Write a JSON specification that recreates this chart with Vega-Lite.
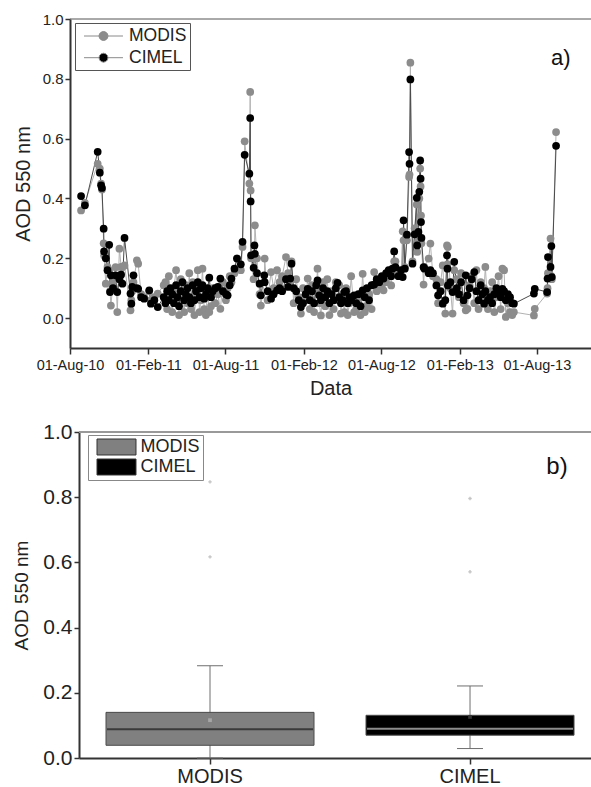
{
"$schema": "https://vega.github.io/schema/vega-lite/v6.json",
"padding": {"left": 12, "top": 12, "right": 0, "bottom": 0},
"spacing": 22,
"resolve": {"scale": {"fill": "independent", "stroke": "independent", "color": "independent"}, "legend": {"fill": "independent", "stroke": "independent", "color": "independent"}},
"config": {
  "font": "Liberation Sans",
  "view": {"stroke": null},
  "axis": {"grid": false, "labelColor": "#222", "titleColor": "#222", "domainColor": "#333", "tickColor": "#333", "titleFontWeight": "normal", "labelFlush": false, "labelOverlap": false}
},
"datasets": {
"aod": [
{"d":"2010-08-27","s":"MODIS","v":0.36},{"d":"2010-08-27","s":"CIMEL","v":0.408},
{"d":"2010-09-05","s":"MODIS","v":0.385},{"d":"2010-09-05","s":"CIMEL","v":0.377},
{"d":"2010-10-05","s":"MODIS","v":0.516},{"d":"2010-10-05","s":"CIMEL","v":0.556},
{"d":"2010-10-10","s":"MODIS","v":0.5},{"d":"2010-10-10","s":"CIMEL","v":0.486},
{"d":"2010-10-13","s":"MODIS","v":0.45},{"d":"2010-10-13","s":"CIMEL","v":0.444},
{"d":"2010-10-15","s":"MODIS","v":0.43},{"d":"2010-10-15","s":"CIMEL","v":0.435},
{"d":"2010-10-19","s":"MODIS","v":0.25},{"d":"2010-10-19","s":"CIMEL","v":0.299},
{"d":"2010-10-20","s":"MODIS","v":0.21},{"d":"2010-10-20","s":"CIMEL","v":0.223},
{"d":"2010-10-24","s":"MODIS","v":0.115},{"d":"2010-10-24","s":"CIMEL","v":0.2},
{"d":"2010-10-28","s":"MODIS","v":0.171},{"d":"2010-10-28","s":"CIMEL","v":0.16},
{"d":"2010-11-01","s":"MODIS","v":0.16},{"d":"2010-11-01","s":"CIMEL","v":0.245},
{"d":"2010-11-03","s":"MODIS","v":0.09},{"d":"2010-11-03","s":"CIMEL","v":0.087},
{"d":"2010-11-05","s":"MODIS","v":0.042},{"d":"2010-11-05","s":"CIMEL","v":0.143},
{"d":"2010-11-10","s":"MODIS","v":0.12},{"d":"2010-11-10","s":"CIMEL","v":0.1},
{"d":"2010-11-16","s":"MODIS","v":0.17},{"d":"2010-11-16","s":"CIMEL","v":0.143},
{"d":"2010-11-20","s":"MODIS","v":0.02},{"d":"2010-11-20","s":"CIMEL","v":0.087},
{"d":"2010-11-25","s":"MODIS","v":0.232},{"d":"2010-11-25","s":"CIMEL","v":0.13},
{"d":"2010-11-29","s":"MODIS","v":0.171},{"d":"2010-11-29","s":"CIMEL","v":0.145},
{"d":"2010-12-02","s":"MODIS","v":0.17},{"d":"2010-12-02","s":"CIMEL","v":0.115},
{"d":"2010-12-07","s":"MODIS","v":0.176},{"d":"2010-12-07","s":"CIMEL","v":0.268},
{"d":"2010-12-21","s":"MODIS","v":0.026},{"d":"2010-12-21","s":"CIMEL","v":0.082},
{"d":"2010-12-23","s":"MODIS","v":0.06},{"d":"2010-12-23","s":"CIMEL","v":0.048},
{"d":"2010-12-25","s":"MODIS","v":0.09},{"d":"2010-12-25","s":"CIMEL","v":0.104},
{"d":"2010-12-28","s":"MODIS","v":0.12},{"d":"2010-12-28","s":"CIMEL","v":0.143},
{"d":"2011-01-05","s":"MODIS","v":0.193},{"d":"2011-01-05","s":"CIMEL","v":0.1},
{"d":"2011-01-08","s":"MODIS","v":0.182},{"d":"2011-01-08","s":"CIMEL","v":0.098},
{"d":"2011-01-15","s":"MODIS","v":0.08},{"d":"2011-01-15","s":"CIMEL","v":0.07},
{"d":"2011-01-22","s":"MODIS","v":0.07},{"d":"2011-01-22","s":"CIMEL","v":0.065},
{"d":"2011-02-03","s":"MODIS","v":0.09},{"d":"2011-02-03","s":"CIMEL","v":0.093},
{"d":"2011-02-07","s":"MODIS","v":0.06},{"d":"2011-02-07","s":"CIMEL","v":0.048},
{"d":"2011-02-15","s":"MODIS","v":0.07},{"d":"2011-02-15","s":"CIMEL","v":0.06},
{"d":"2011-02-23","s":"MODIS","v":0.082},{"d":"2011-02-23","s":"CIMEL","v":0.037},
{"d":"2011-03-09","s":"MODIS","v":0.11},{"d":"2011-03-09","s":"CIMEL","v":0.07},
{"d":"2011-03-13","s":"MODIS","v":0.12},{"d":"2011-03-13","s":"CIMEL","v":0.05},
{"d":"2011-03-17","s":"MODIS","v":0.03},{"d":"2011-03-17","s":"CIMEL","v":0.09},
{"d":"2011-03-21","s":"MODIS","v":0.14},{"d":"2011-03-21","s":"CIMEL","v":0.06},
{"d":"2011-03-25","s":"MODIS","v":0.06},{"d":"2011-03-25","s":"CIMEL","v":0.1},
{"d":"2011-03-29","s":"MODIS","v":0.02},{"d":"2011-03-29","s":"CIMEL","v":0.08},
{"d":"2011-04-02","s":"MODIS","v":0.1},{"d":"2011-04-02","s":"CIMEL","v":0.05},
{"d":"2011-04-07","s":"MODIS","v":0.16},{"d":"2011-04-07","s":"CIMEL","v":0.11},
{"d":"2011-04-10","s":"MODIS","v":0.09},{"d":"2011-04-10","s":"CIMEL","v":0.07},
{"d":"2011-04-14","s":"MODIS","v":0.01},{"d":"2011-04-14","s":"CIMEL","v":0.04},
{"d":"2011-04-18","s":"MODIS","v":0.13},{"d":"2011-04-18","s":"CIMEL","v":0.09},
{"d":"2011-04-22","s":"MODIS","v":0.07},{"d":"2011-04-22","s":"CIMEL","v":0.12},
{"d":"2011-04-26","s":"MODIS","v":0.02},{"d":"2011-04-26","s":"CIMEL","v":0.06},
{"d":"2011-04-30","s":"MODIS","v":0.11},{"d":"2011-04-30","s":"CIMEL","v":0.08},
{"d":"2011-05-04","s":"MODIS","v":0.05},{"d":"2011-05-04","s":"CIMEL","v":0.1},
{"d":"2011-05-08","s":"MODIS","v":0.15},{"d":"2011-05-08","s":"CIMEL","v":0.07},
{"d":"2011-05-12","s":"MODIS","v":0.03},{"d":"2011-05-12","s":"CIMEL","v":0.05},
{"d":"2011-05-16","s":"MODIS","v":0.12},{"d":"2011-05-16","s":"CIMEL","v":0.11},
{"d":"2011-05-20","s":"MODIS","v":0.01},{"d":"2011-05-20","s":"CIMEL","v":0.06},
{"d":"2011-05-24","s":"MODIS","v":0.08},{"d":"2011-05-24","s":"CIMEL","v":0.09},
{"d":"2011-05-28","s":"MODIS","v":0.16},{"d":"2011-05-28","s":"CIMEL","v":0.12},
{"d":"2011-06-01","s":"MODIS","v":0.02},{"d":"2011-06-01","s":"CIMEL","v":0.07},
{"d":"2011-06-04","s":"MODIS","v":0.06},{"d":"2011-06-04","s":"CIMEL","v":0.1},
{"d":"2011-06-08","s":"MODIS","v":0.165},{"d":"2011-06-08","s":"CIMEL","v":0.11},
{"d":"2011-06-12","s":"MODIS","v":0.03},{"d":"2011-06-12","s":"CIMEL","v":0.065},
{"d":"2011-06-16","s":"MODIS","v":0.01},{"d":"2011-06-16","s":"CIMEL","v":0.08},
{"d":"2011-06-20","s":"MODIS","v":0.09},{"d":"2011-06-20","s":"CIMEL","v":0.1},
{"d":"2011-06-24","s":"MODIS","v":0.02},{"d":"2011-06-24","s":"CIMEL","v":0.135},
{"d":"2011-06-28","s":"MODIS","v":0.04},{"d":"2011-06-28","s":"CIMEL","v":0.07},
{"d":"2011-07-02","s":"MODIS","v":0.1},{"d":"2011-07-02","s":"CIMEL","v":0.09},
{"d":"2011-07-08","s":"MODIS","v":0.05},{"d":"2011-07-08","s":"CIMEL","v":0.1},
{"d":"2011-07-14","s":"MODIS","v":0.08},{"d":"2011-07-14","s":"CIMEL","v":0.104},
{"d":"2011-07-20","s":"MODIS","v":0.031},{"d":"2011-07-20","s":"CIMEL","v":0.132},
{"d":"2011-07-26","s":"MODIS","v":0.12},{"d":"2011-07-26","s":"CIMEL","v":0.09},
{"d":"2011-08-02","s":"MODIS","v":0.06},{"d":"2011-08-02","s":"CIMEL","v":0.08},
{"d":"2011-08-06","s":"MODIS","v":0.1},{"d":"2011-08-06","s":"CIMEL","v":0.076},
{"d":"2011-08-11","s":"MODIS","v":0.14},{"d":"2011-08-11","s":"CIMEL","v":0.11},
{"d":"2011-08-15","s":"MODIS","v":0.12},{"d":"2011-08-15","s":"CIMEL","v":0.132},
{"d":"2011-08-22","s":"MODIS","v":0.15},{"d":"2011-08-22","s":"CIMEL","v":0.165},
{"d":"2011-08-28","s":"MODIS","v":0.2},{"d":"2011-08-28","s":"CIMEL","v":0.199},
{"d":"2011-09-06","s":"MODIS","v":0.16},{"d":"2011-09-06","s":"CIMEL","v":0.18},
{"d":"2011-09-10","s":"MODIS","v":0.238},{"d":"2011-09-10","s":"CIMEL","v":0.255},
{"d":"2011-09-15","s":"MODIS","v":0.591},{"d":"2011-09-15","s":"CIMEL","v":0.546},
{"d":"2011-09-26","s":"MODIS","v":0.45},{"d":"2011-09-26","s":"CIMEL","v":0.483},
{"d":"2011-09-28","s":"MODIS","v":0.756},{"d":"2011-09-28","s":"CIMEL","v":0.669},
{"d":"2011-09-29","s":"MODIS","v":0.427},{"d":"2011-09-29","s":"CIMEL","v":0.39},
{"d":"2011-09-30","s":"MODIS","v":0.2},{"d":"2011-09-30","s":"CIMEL","v":0.21},
{"d":"2011-10-06","s":"MODIS","v":0.13},{"d":"2011-10-06","s":"CIMEL","v":0.168},
{"d":"2011-10-08","s":"MODIS","v":0.2},{"d":"2011-10-08","s":"CIMEL","v":0.243},
{"d":"2011-10-09","s":"MODIS","v":0.31},{"d":"2011-10-09","s":"CIMEL","v":0.215},
{"d":"2011-10-14","s":"MODIS","v":0.2},{"d":"2011-10-14","s":"CIMEL","v":0.15},
{"d":"2011-10-20","s":"MODIS","v":0.08},{"d":"2011-10-20","s":"CIMEL","v":0.115},
{"d":"2011-10-23","s":"MODIS","v":0.042},{"d":"2011-10-23","s":"CIMEL","v":0.076},
{"d":"2011-10-31","s":"MODIS","v":0.12},{"d":"2011-10-31","s":"CIMEL","v":0.143},
{"d":"2011-11-01","s":"MODIS","v":0.199},{"d":"2011-11-01","s":"CIMEL","v":0.12},
{"d":"2011-11-08","s":"MODIS","v":0.06},{"d":"2011-11-08","s":"CIMEL","v":0.09},
{"d":"2011-11-16","s":"MODIS","v":0.154},{"d":"2011-11-16","s":"CIMEL","v":0.065},
{"d":"2011-11-22","s":"MODIS","v":0.1},{"d":"2011-11-22","s":"CIMEL","v":0.08},
{"d":"2011-11-30","s":"MODIS","v":0.16},{"d":"2011-11-30","s":"CIMEL","v":0.093},
{"d":"2011-12-06","s":"MODIS","v":0.12},{"d":"2011-12-06","s":"CIMEL","v":0.1},
{"d":"2011-12-12","s":"MODIS","v":0.14},{"d":"2011-12-12","s":"CIMEL","v":0.09},
{"d":"2011-12-21","s":"MODIS","v":0.204},{"d":"2011-12-21","s":"CIMEL","v":0.13},
{"d":"2011-12-26","s":"MODIS","v":0.15},{"d":"2011-12-26","s":"CIMEL","v":0.104},
{"d":"2011-12-31","s":"MODIS","v":0.11},{"d":"2011-12-31","s":"CIMEL","v":0.132},
{"d":"2012-01-03","s":"MODIS","v":0.19},{"d":"2012-01-03","s":"CIMEL","v":0.182},
{"d":"2012-01-08","s":"MODIS","v":0.05},{"d":"2012-01-08","s":"CIMEL","v":0.1},
{"d":"2012-01-14","s":"MODIS","v":0.13},{"d":"2012-01-14","s":"CIMEL","v":0.09},
{"d":"2012-01-20","s":"MODIS","v":0.07},{"d":"2012-01-20","s":"CIMEL","v":0.06},
{"d":"2012-01-25","s":"MODIS","v":0.015},{"d":"2012-01-25","s":"CIMEL","v":0.037},
{"d":"2012-01-30","s":"MODIS","v":0.1},{"d":"2012-01-30","s":"CIMEL","v":0.05},
{"d":"2012-02-05","s":"MODIS","v":0.06},{"d":"2012-02-05","s":"CIMEL","v":0.08},
{"d":"2012-02-10","s":"MODIS","v":0.132},{"d":"2012-02-10","s":"CIMEL","v":0.098},
{"d":"2012-02-15","s":"MODIS","v":0.03},{"d":"2012-02-15","s":"CIMEL","v":0.06},
{"d":"2012-02-20","s":"MODIS","v":0.11},{"d":"2012-02-20","s":"CIMEL","v":0.09},
{"d":"2012-02-25","s":"MODIS","v":0.02},{"d":"2012-02-25","s":"CIMEL","v":0.05},
{"d":"2012-03-01","s":"MODIS","v":0.09},{"d":"2012-03-01","s":"CIMEL","v":0.11},
{"d":"2012-03-04","s":"MODIS","v":0.165},{"d":"2012-03-04","s":"CIMEL","v":0.126},
{"d":"2012-03-08","s":"MODIS","v":0.05},{"d":"2012-03-08","s":"CIMEL","v":0.076},
{"d":"2012-03-12","s":"MODIS","v":0.009},{"d":"2012-03-12","s":"CIMEL","v":0.06},
{"d":"2012-03-17","s":"MODIS","v":0.12},{"d":"2012-03-17","s":"CIMEL","v":0.1},
{"d":"2012-03-22","s":"MODIS","v":0.04},{"d":"2012-03-22","s":"CIMEL","v":0.07},
{"d":"2012-03-27","s":"MODIS","v":0.13},{"d":"2012-03-27","s":"CIMEL","v":0.09},
{"d":"2012-04-01","s":"MODIS","v":0.01},{"d":"2012-04-01","s":"CIMEL","v":0.05},
{"d":"2012-04-06","s":"MODIS","v":0.09},{"d":"2012-04-06","s":"CIMEL","v":0.08},
{"d":"2012-04-11","s":"MODIS","v":0.03},{"d":"2012-04-11","s":"CIMEL","v":0.06},
{"d":"2012-04-16","s":"MODIS","v":0.12},{"d":"2012-04-16","s":"CIMEL","v":0.1},
{"d":"2012-04-20","s":"MODIS","v":0.06},{"d":"2012-04-20","s":"CIMEL","v":0.118},
{"d":"2012-04-24","s":"MODIS","v":0.11},{"d":"2012-04-24","s":"CIMEL","v":0.07},
{"d":"2012-04-28","s":"MODIS","v":0.015},{"d":"2012-04-28","s":"CIMEL","v":0.05},
{"d":"2012-05-02","s":"MODIS","v":0.08},{"d":"2012-05-02","s":"CIMEL","v":0.06},
{"d":"2012-05-06","s":"MODIS","v":0.02},{"d":"2012-05-06","s":"CIMEL","v":0.087},
{"d":"2012-05-10","s":"MODIS","v":0.1},{"d":"2012-05-10","s":"CIMEL","v":0.09},
{"d":"2012-05-14","s":"MODIS","v":0.01},{"d":"2012-05-14","s":"CIMEL","v":0.05},
{"d":"2012-05-18","s":"MODIS","v":0.05},{"d":"2012-05-18","s":"CIMEL","v":0.07},
{"d":"2012-05-22","s":"MODIS","v":0.14},{"d":"2012-05-22","s":"CIMEL","v":0.06},
{"d":"2012-05-29","s":"MODIS","v":0.02},{"d":"2012-05-29","s":"CIMEL","v":0.076},
{"d":"2012-06-03","s":"MODIS","v":0.03},{"d":"2012-06-03","s":"CIMEL","v":0.05},
{"d":"2012-06-08","s":"MODIS","v":0.06},{"d":"2012-06-08","s":"CIMEL","v":0.08},
{"d":"2012-06-13","s":"MODIS","v":0.01},{"d":"2012-06-13","s":"CIMEL","v":0.04},
{"d":"2012-06-18","s":"MODIS","v":0.148},{"d":"2012-06-18","s":"CIMEL","v":0.093},
{"d":"2012-06-23","s":"MODIS","v":0.02},{"d":"2012-06-23","s":"CIMEL","v":0.07},
{"d":"2012-06-28","s":"MODIS","v":0.04},{"d":"2012-06-28","s":"CIMEL","v":0.1},
{"d":"2012-07-03","s":"MODIS","v":0.08},{"d":"2012-07-03","s":"CIMEL","v":0.06},
{"d":"2012-07-09","s":"MODIS","v":0.03},{"d":"2012-07-09","s":"CIMEL","v":0.11},
{"d":"2012-07-15","s":"MODIS","v":0.154},{"d":"2012-07-15","s":"CIMEL","v":0.112},
{"d":"2012-07-21","s":"MODIS","v":0.09},{"d":"2012-07-21","s":"CIMEL","v":0.13},
{"d":"2012-07-27","s":"MODIS","v":0.1},{"d":"2012-07-27","s":"CIMEL","v":0.12},
{"d":"2012-08-02","s":"MODIS","v":0.11},{"d":"2012-08-02","s":"CIMEL","v":0.14},
{"d":"2012-08-06","s":"MODIS","v":0.093},{"d":"2012-08-06","s":"CIMEL","v":0.132},
{"d":"2012-08-12","s":"MODIS","v":0.12},{"d":"2012-08-12","s":"CIMEL","v":0.15},
{"d":"2012-08-18","s":"MODIS","v":0.15},{"d":"2012-08-18","s":"CIMEL","v":0.16},
{"d":"2012-08-24","s":"MODIS","v":0.109},{"d":"2012-08-24","s":"CIMEL","v":0.14},
{"d":"2012-08-27","s":"MODIS","v":0.16},{"d":"2012-08-27","s":"CIMEL","v":0.165},
{"d":"2012-08-31","s":"MODIS","v":0.19},{"d":"2012-08-31","s":"CIMEL","v":0.223},
{"d":"2012-09-03","s":"MODIS","v":0.19},{"d":"2012-09-03","s":"CIMEL","v":0.17},
{"d":"2012-09-10","s":"MODIS","v":0.15},{"d":"2012-09-10","s":"CIMEL","v":0.14},
{"d":"2012-09-16","s":"MODIS","v":0.14},{"d":"2012-09-16","s":"CIMEL","v":0.16},
{"d":"2012-09-20","s":"MODIS","v":0.29},{"d":"2012-09-20","s":"CIMEL","v":0.137},
{"d":"2012-09-22","s":"MODIS","v":0.26},{"d":"2012-09-22","s":"CIMEL","v":0.327},
{"d":"2012-09-25","s":"MODIS","v":0.17},{"d":"2012-09-25","s":"CIMEL","v":0.165},
{"d":"2012-09-30","s":"MODIS","v":0.26},{"d":"2012-09-30","s":"CIMEL","v":0.279},
{"d":"2012-10-05","s":"MODIS","v":0.472},{"d":"2012-10-05","s":"CIMEL","v":0.555},
{"d":"2012-10-06","s":"MODIS","v":0.48},{"d":"2012-10-06","s":"CIMEL","v":0.516},
{"d":"2012-10-08","s":"MODIS","v":0.854},{"d":"2012-10-08","s":"CIMEL","v":0.798},
{"d":"2012-10-13","s":"MODIS","v":0.19},{"d":"2012-10-13","s":"CIMEL","v":0.182},
{"d":"2012-10-18","s":"MODIS","v":0.3},{"d":"2012-10-18","s":"CIMEL","v":0.28},
{"d":"2012-10-23","s":"MODIS","v":0.38},{"d":"2012-10-23","s":"CIMEL","v":0.402},
{"d":"2012-10-24","s":"MODIS","v":0.221},{"d":"2012-10-24","s":"CIMEL","v":0.243},
{"d":"2012-10-27","s":"MODIS","v":0.26},{"d":"2012-10-27","s":"CIMEL","v":0.288},
{"d":"2012-10-29","s":"MODIS","v":0.4},{"d":"2012-10-29","s":"CIMEL","v":0.422},
{"d":"2012-10-31","s":"MODIS","v":0.5},{"d":"2012-10-31","s":"CIMEL","v":0.527},
{"d":"2012-11-01","s":"MODIS","v":0.44},{"d":"2012-11-01","s":"CIMEL","v":0.466},
{"d":"2012-11-02","s":"MODIS","v":0.343},{"d":"2012-11-02","s":"CIMEL","v":0.321},
{"d":"2012-11-03","s":"MODIS","v":0.25},{"d":"2012-11-03","s":"CIMEL","v":0.268},
{"d":"2012-11-08","s":"MODIS","v":0.112},{"d":"2012-11-08","s":"CIMEL","v":0.17},
{"d":"2012-11-10","s":"MODIS","v":0.17},{"d":"2012-11-10","s":"CIMEL","v":0.165},
{"d":"2012-11-20","s":"MODIS","v":0.199},{"d":"2012-11-20","s":"CIMEL","v":0.15},
{"d":"2012-11-24","s":"MODIS","v":0.249},{"d":"2012-11-24","s":"CIMEL","v":0.16},
{"d":"2012-11-30","s":"MODIS","v":0.14},{"d":"2012-11-30","s":"CIMEL","v":0.15},
{"d":"2012-12-08","s":"MODIS","v":0.13},{"d":"2012-12-08","s":"CIMEL","v":0.109},
{"d":"2012-12-12","s":"MODIS","v":0.05},{"d":"2012-12-12","s":"CIMEL","v":0.076},
{"d":"2012-12-18","s":"MODIS","v":0.12},{"d":"2012-12-18","s":"CIMEL","v":0.09},
{"d":"2012-12-23","s":"MODIS","v":0.176},{"d":"2012-12-23","s":"CIMEL","v":0.048},
{"d":"2012-12-29","s":"MODIS","v":0.015},{"d":"2012-12-29","s":"CIMEL","v":0.06},
{"d":"2013-01-02","s":"MODIS","v":0.243},{"d":"2013-01-02","s":"CIMEL","v":0.21},
{"d":"2013-01-03","s":"MODIS","v":0.18},{"d":"2013-01-03","s":"CIMEL","v":0.165},
{"d":"2013-01-04","s":"MODIS","v":0.238},{"d":"2013-01-04","s":"CIMEL","v":0.109},
{"d":"2013-01-10","s":"MODIS","v":0.1},{"d":"2013-01-10","s":"CIMEL","v":0.12},
{"d":"2013-01-15","s":"MODIS","v":0.015},{"d":"2013-01-15","s":"CIMEL","v":0.087},
{"d":"2013-01-19","s":"MODIS","v":0.16},{"d":"2013-01-19","s":"CIMEL","v":0.188},
{"d":"2013-01-25","s":"MODIS","v":0.13},{"d":"2013-01-25","s":"CIMEL","v":0.1},
{"d":"2013-01-30","s":"MODIS","v":0.07},{"d":"2013-01-30","s":"CIMEL","v":0.08},
{"d":"2013-02-04","s":"MODIS","v":0.15},{"d":"2013-02-04","s":"CIMEL","v":0.12},
{"d":"2013-02-10","s":"MODIS","v":0.05},{"d":"2013-02-10","s":"CIMEL","v":0.06},
{"d":"2013-02-15","s":"MODIS","v":0.026},{"d":"2013-02-15","s":"CIMEL","v":0.143},
{"d":"2013-02-19","s":"MODIS","v":0.031},{"d":"2013-02-19","s":"CIMEL","v":0.076},
{"d":"2013-02-24","s":"MODIS","v":0.11},{"d":"2013-02-24","s":"CIMEL","v":0.1},
{"d":"2013-03-01","s":"MODIS","v":0.14},{"d":"2013-03-01","s":"CIMEL","v":0.13},
{"d":"2013-03-07","s":"MODIS","v":0.05},{"d":"2013-03-07","s":"CIMEL","v":0.154},
{"d":"2013-03-12","s":"MODIS","v":0.16},{"d":"2013-03-12","s":"CIMEL","v":0.09},
{"d":"2013-03-17","s":"MODIS","v":0.03},{"d":"2013-03-17","s":"CIMEL","v":0.06},
{"d":"2013-03-22","s":"MODIS","v":0.12},{"d":"2013-03-22","s":"CIMEL","v":0.11},
{"d":"2013-03-26","s":"MODIS","v":0.06},{"d":"2013-03-26","s":"CIMEL","v":0.08},
{"d":"2013-03-30","s":"MODIS","v":0.1},{"d":"2013-03-30","s":"CIMEL","v":0.048},
{"d":"2013-04-02","s":"MODIS","v":0.171},{"d":"2013-04-02","s":"CIMEL","v":0.09},
{"d":"2013-04-08","s":"MODIS","v":0.03},{"d":"2013-04-08","s":"CIMEL","v":0.06},
{"d":"2013-04-13","s":"MODIS","v":0.09},{"d":"2013-04-13","s":"CIMEL","v":0.07},
{"d":"2013-04-18","s":"MODIS","v":0.12},{"d":"2013-04-18","s":"CIMEL","v":0.05},
{"d":"2013-04-23","s":"MODIS","v":0.02},{"d":"2013-04-23","s":"CIMEL","v":0.08},
{"d":"2013-04-28","s":"MODIS","v":0.07},{"d":"2013-04-28","s":"CIMEL","v":0.1},
{"d":"2013-05-03","s":"MODIS","v":0.14},{"d":"2013-05-03","s":"CIMEL","v":0.09},
{"d":"2013-05-08","s":"MODIS","v":0.03},{"d":"2013-05-08","s":"CIMEL","v":0.07},
{"d":"2013-05-12","s":"MODIS","v":0.165},{"d":"2013-05-12","s":"CIMEL","v":0.098},
{"d":"2013-05-16","s":"MODIS","v":0.16},{"d":"2013-05-16","s":"CIMEL","v":0.09},
{"d":"2013-05-20","s":"MODIS","v":0.004},{"d":"2013-05-20","s":"CIMEL","v":0.06},
{"d":"2013-05-25","s":"MODIS","v":0.05},{"d":"2013-05-25","s":"CIMEL","v":0.08},
{"d":"2013-05-30","s":"MODIS","v":0.02},{"d":"2013-05-30","s":"CIMEL","v":0.07},
{"d":"2013-06-04","s":"MODIS","v":0.01},{"d":"2013-06-04","s":"CIMEL","v":0.05},
{"d":"2013-06-08","s":"MODIS","v":0.02},{"d":"2013-06-08","s":"CIMEL","v":0.048},
{"d":"2013-07-25","s":"MODIS","v":0.009},{"d":"2013-07-25","s":"CIMEL","v":0.082},
{"d":"2013-07-27","s":"MODIS","v":0.031},{"d":"2013-07-27","s":"CIMEL","v":0.098},
{"d":"2013-08-25","s":"MODIS","v":0.082},{"d":"2013-08-25","s":"CIMEL","v":0.087},
{"d":"2013-08-26","s":"MODIS","v":0.1},{"d":"2013-08-26","s":"CIMEL","v":0.132},
{"d":"2013-08-27","s":"MODIS","v":0.15},{"d":"2013-08-27","s":"CIMEL","v":0.204},
{"d":"2013-09-02","s":"MODIS","v":0.266},{"d":"2013-09-02","s":"CIMEL","v":0.171},
{"d":"2013-09-04","s":"MODIS","v":0.14},{"d":"2013-09-04","s":"CIMEL","v":0.241},
{"d":"2013-09-05","s":"MODIS","v":0.13},{"d":"2013-09-05","s":"CIMEL","v":0.137},
{"d":"2013-09-15","s":"MODIS","v":0.622},{"d":"2013-09-15","s":"CIMEL","v":0.576}
],
"boxes": [
{"sensor":"MODIS","lower":0.0,"q1":0.039,"median":0.088,"q3":0.14,"upper":0.283,"mean":0.116},
{"sensor":"CIMEL","lower":0.029,"q1":0.07,"median":0.09,"q3":0.131,"upper":0.221,"mean":0.126}
],
"outl": [
{"sensor":"MODIS","value":0.847},{"sensor":"MODIS","value":0.617},
{"sensor":"CIMEL","value":0.796},{"sensor":"CIMEL","value":0.571}
]
},
"vconcat": [
{
  "width": 512, "height": 329,
  "layer": [
    {"data": {"name": "aod"},
     "transform": [{"filter": "datum.s == 'MODIS'"}],
     "mark": {"type": "line", "strokeWidth": 1, "color": "#b2b2b2"},
     "encoding": {
       "x": {"field": "d", "type": "temporal",
             "scale": {"type": "utc", "range": [-9, 512], "domain": [{"year":2010,"month":8,"date":1,"utc":true},{"year":2013,"month":12,"date":6,"utc":true}]},
             "axis": {"title": "Data", "titleFontSize": 20, "titlePadding": 7, "labelFontSize": 14.5, "labelPadding": 4,
                      "domainWidth": 2, "tickWidth": 1.5,
                      "values": [{"year":2010,"month":8,"date":1,"utc":true},{"year":2010,"month":11,"date":1,"utc":true},{"year":2011,"month":2,"date":1,"utc":true},{"year":2011,"month":5,"date":1,"utc":true},{"year":2011,"month":8,"date":1,"utc":true},{"year":2011,"month":11,"date":1,"utc":true},{"year":2012,"month":2,"date":1,"utc":true},{"year":2012,"month":5,"date":1,"utc":true},{"year":2012,"month":8,"date":1,"utc":true},{"year":2012,"month":11,"date":1,"utc":true},{"year":2013,"month":2,"date":1,"utc":true},{"year":2013,"month":5,"date":1,"utc":true},{"year":2013,"month":8,"date":1,"utc":true},{"year":2013,"month":11,"date":1,"utc":true}],
                      "labelExpr": "(utcmonth(datum.value) == 7 || utcmonth(datum.value) == 1) ? utcFormat(datum.value, '%d-%b-%y') : ''",
                      "tickSize": {"condition": {"test": "utcmonth(datum.value) == 7 || utcmonth(datum.value) == 1", "value": 6}, "value": 3}}},
       "y": {"field": "v", "type": "quantitative",
             "scale": {"domain": [-0.1, 1.0]},
             "axis": {"title": "AOD 550 nm", "titleFontSize": 20, "titlePadding": 9, "labelFontSize": 15, "labelPadding": 2, "offset": 9,
                      "domainWidth": 2, "tickWidth": 1.5,
                      "values": [0, 0.1, 0.2, 0.3, 0.4, 0.5, 0.6, 0.7, 0.8, 0.9, 1.0],
                      "labelExpr": "round(datum.value * 10) % 2 == 1 ? '' : format(datum.value, '.1f')",
                      "tickSize": {"condition": {"test": "round(datum.value * 10) % 2 == 1", "value": 3}, "value": 5}}}
     }},
    {"data": {"name": "aod"},
     "transform": [{"filter": "datum.s == 'CIMEL'"}],
     "mark": {"type": "line", "strokeWidth": 1, "color": "#4a4a4a"},
     "encoding": {
       "x": {"field": "d", "type": "temporal"},
       "y": {"field": "v", "type": "quantitative"}
     }},
    {"data": {"name": "aod"},
     "mark": {"type": "point", "filled": true, "size": 60, "opacity": 1, "strokeWidth": 0},
     "encoding": {
       "x": {"field": "d", "type": "temporal"},
       "y": {"field": "v", "type": "quantitative"},
       "fill": {"field": "s", "type": "nominal", "scale": {"domain": ["MODIS", "CIMEL"], "range": ["#8c8c8c", "#000000"]},
                "legend": {"orient": "none", "legendX": -4, "legendY": 4, "title": null, "direction": "vertical",
                           "symbolType": "M-2.05,0L-0.474,0L-0.41,0.237L-0.237,0.41L0,0.474L0.237,0.41L0.41,0.237L0.474,0L0.41,-0.237L0.237,-0.41L0,-0.474L-0.237,-0.41L-0.41,-0.237L-0.474,0M0.474,0L2.05,0",
                           "symbolSize": 361, "symbolStrokeColor": "#8a8a8a", "symbolStrokeWidth": 1,
                           "rowPadding": 2.7, "padding": 3, "symbolOffset": 15.5, "labelOffset": 15.5,
                           "labelFontSize": 17.5, "labelColor": "#222", "strokeColor": "#555", "fillColor": "#ffffff"}},
       "order": {"field": "s", "sort": "descending"}
     }},
    {"data": {"values": [{"label": "a)"}]},
     "mark": {"type": "text", "fontSize": 22, "align": "center", "baseline": "alphabetic", "color": "#111"},
     "encoding": {
       "x": {"datum": {"year":2013,"month":9,"date":26,"utc":true}, "type": "temporal"},
       "y": {"datum": 0.847},
       "text": {"field": "label"}
     }},
    {"data": {"values": [{"k": 1}]},
     "mark": {"type": "rule", "color": "#555", "strokeWidth": 1},
     "encoding": {
       "x": {"datum": {"year":2010,"month":8,"date":1,"utc":true}, "type": "temporal"},
       "x2": {"datum": {"year":2013,"month":12,"date":6,"utc":true}},
       "y": {"datum": 1.0}
     }}
  ]
},
{
  "width": 512, "height": 326,
  "layer": [
    {"data": {"name": "boxes"},
     "mark": {"type": "rule", "color": "#6e6e6e", "strokeWidth": 1},
     "encoding": {
       "x": {"field": "sensor", "type": "nominal",
             "scale": {"type": "band", "domain": ["MODIS", "CIMEL"], "paddingInner": 0.2, "paddingOuter": 0.0846, "align": 0.614},
             "axis": {"title": null, "labelFontSize": 20, "labelAngle": 0, "labelPadding": 2, "tickSize": 6, "domainWidth": 2, "tickWidth": 1.5}},
       "y": {"field": "lower", "type": "quantitative", "scale": {"domain": [0, 1.0]},
             "axis": {"title": "AOD 550 nm", "titleFontSize": 19, "titlePadding": 11, "labelFontSize": 21, "labelPadding": 2,
                      "domainWidth": 2, "tickWidth": 1.5,
                      "values": [0, 0.1, 0.2, 0.3, 0.4, 0.5, 0.6, 0.7, 0.8, 0.9, 1.0],
                      "labelExpr": "round(datum.value * 10) % 2 == 1 ? '' : format(datum.value, '.1f')",
                      "tickSize": {"condition": {"test": "round(datum.value * 10) % 2 == 1", "value": 3}, "value": 5}}},
       "y2": {"field": "upper"}
     }},
    {"data": {"name": "boxes"},
     "mark": {"type": "tick", "color": "#6e6e6e", "thickness": 1, "size": 26, "opacity": 1},
     "encoding": {"x": {"field": "sensor", "type": "nominal"}, "y": {"field": "upper", "type": "quantitative"}}},
    {"data": {"name": "boxes"},
     "mark": {"type": "tick", "color": "#6e6e6e", "thickness": 1, "size": 26, "opacity": 1},
     "encoding": {"x": {"field": "sensor", "type": "nominal"}, "y": {"field": "lower", "type": "quantitative"}}},
    {"data": {"name": "boxes"},
     "mark": {"type": "bar", "stroke": "#4a4a4a", "strokeWidth": 1},
     "encoding": {
       "x": {"field": "sensor", "type": "nominal"},
       "y": {"field": "q1", "type": "quantitative"},
       "y2": {"field": "q3"},
       "fill": {"field": "sensor", "type": "nominal", "scale": {"domain": ["MODIS", "CIMEL"], "range": ["#808080", "#000000"]},
                "legend": {"orient": "none", "legendX": 9, "legendY": 3, "title": null, "direction": "vertical",
                           "symbolType": "M-2.294,-0.94L2.294,-0.94L2.294,0.94L-2.294,0.94Z",
                           "symbolSize": 289, "symbolStrokeColor": "#333", "symbolStrokeWidth": 1,
                           "rowPadding": 0, "padding": 3, "symbolOffset": 16.5, "labelOffset": 15,
                           "labelFontSize": 18, "labelColor": "#222", "strokeColor": "#888", "fillColor": "#ffffff"}}
     }},
    {"data": {"name": "boxes"},
     "mark": {"type": "tick", "thickness": 2, "size": 206, "opacity": 1},
     "encoding": {
       "x": {"field": "sensor", "type": "nominal"},
       "y": {"field": "median", "type": "quantitative"},
       "color": {"field": "sensor", "type": "nominal", "scale": {"domain": ["MODIS", "CIMEL"], "range": ["#3a3a3a", "#8c8c8c"]}, "legend": null}
     }},
    {"data": {"name": "boxes"},
     "transform": [{"filter": "datum.sensor == 'MODIS'"}],
     "mark": {"type": "point", "shape": "square", "filled": true, "size": 14, "color": "#a6a6a6", "opacity": 1},
     "encoding": {"x": {"field": "sensor", "type": "nominal"}, "y": {"field": "mean", "type": "quantitative"}}},
    {"data": {"name": "boxes"},
     "transform": [{"filter": "datum.sensor == 'CIMEL'"}],
     "mark": {"type": "point", "shape": "square", "filled": true, "size": 14, "color": "#333333", "opacity": 1},
     "encoding": {"x": {"field": "sensor", "type": "nominal"}, "y": {"field": "mean", "type": "quantitative"}}},
    {"data": {"name": "outl"},
     "mark": {"type": "point", "shape": "cross", "filled": true, "size": 12, "color": "#c4c4c4", "opacity": 1},
     "encoding": {"x": {"field": "sensor", "type": "nominal"}, "y": {"field": "value", "type": "quantitative"}}},
    {"data": {"values": [{"k": 1}]},
     "mark": {"type": "rule", "color": "#999", "strokeWidth": 2},
     "encoding": {"y": {"datum": 1.0}}},
    {"data": {"values": [{"label": "b)"}]},
     "mark": {"type": "text", "fontSize": 24, "dx": 87, "align": "center", "baseline": "alphabetic", "color": "#111"},
     "encoding": {"x": {"datum": "CIMEL"}, "y": {"datum": 0.871}, "text": {"field": "label"}}}
  ]
}
]
}
